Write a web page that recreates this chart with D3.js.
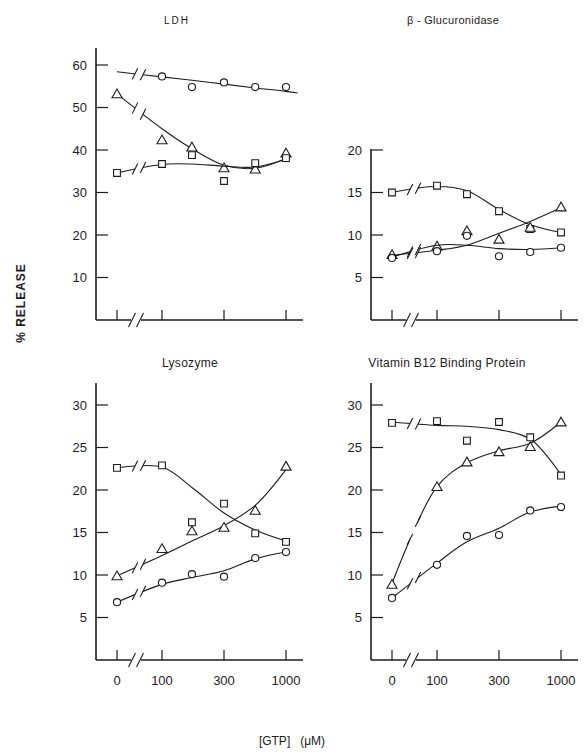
<!DOCTYPE html>
<html>
<head>
<meta charset="UTF-8">
<script src="https://d3js.org/d3.v7.min.js"></script>
<style>
    body { margin: 0; background: #fff; }
    svg text { font-family: "Liberation Sans", Arial, sans-serif; fill: #1c1c1c; }
</style>
</head>
<body>
<svg id="chart" width="586" height="752"></svg>
<script>
    // GTP doses (µM) and axis ticks
    const doses = [0, 100, 170, 300, 550, 1000];
    const fitDoses = [0, 100, 170, 300, 550, 1000, 1250];
    const doseTicks = [0, 100, 300, 1000];

    // LDH
    const ldhCircles = [null, 57.3, 54.8, 55.9, 54.8, 54.8];
    const ldhCirclesFit = [58.4, 57.2, 56.4, 55.5, 54.6, 53.8, 53.4];
    const ldhTriangles = [53.2, 42.4, 40.7, 35.8, 35.5, 39.3];
    const ldhTrianglesFit = [53.2, 45.0, 40.3, 36.4, 35.7, 38.0];
    const ldhSquares = [34.6, 36.7, 38.8, 32.7, 36.9, 38.1];
    const ldhSquaresFit = [34.6, 36.6, 36.7, 36.2, 36.0, 37.8];

    // beta-Glucuronidase
    const glucSquares = [15.0, 15.8, 14.8, 12.8, 10.7, 10.3];
    const glucSquaresFit = [15.0, 15.7, 15.2, 13.0, 11.2, 10.3];
    const glucTriangles = [7.7, 8.7, 10.5, 9.5, 10.9, 13.3];
    const glucTrianglesFit = [7.6, 8.2, 8.8, 10.2, 11.6, 13.2];
    const glucCircles = [7.3, 8.1, 9.9, 7.5, 8.0, 8.5];
    const glucCirclesFit = [7.4, 8.8, 8.8, 8.4, 8.3, 8.5];

    // Lysozyme
    const lysoSquares = [22.6, 22.9, 16.2, 18.4, 14.9, 13.9];
    const lysoSquaresFit = [22.6, 22.7, 20.3, 17.3, 15.3, 14.0];
    const lysoTriangles = [9.9, 13.1, 15.2, 15.6, 17.6, 22.8];
    const lysoTrianglesFit = [9.9, 12.3, 14.0, 15.8, 18.2, 22.4];
    const lysoCircles = [6.8, 9.1, 10.1, 9.8, 12.0, 12.7];
    const lysoCirclesFit = [6.8, 8.9, 9.7, 10.5, 11.9, 12.7];

    // Vitamin B12 binding protein
    const b12Squares = [27.9, 28.1, 25.8, 28.0, 26.2, 21.7];
    const b12SquaresFit = [28.0, 27.6, 27.5, 27.1, 26.0, 21.8];
    const b12Triangles = [8.9, 20.4, 23.3, 24.5, 25.1, 28.0];
    const b12TrianglesFit = [9.0, 20.4, 23.2, 24.6, 25.5, 28.0];
    const b12Circles = [7.3, 11.2, 14.6, 14.7, 17.6, 18.0];
    const b12CirclesFit = [7.3, 11.4, 13.9, 15.5, 17.4, 18.1];

    const ticksLDH = [10, 20, 30, 40, 50, 60];
    const ticksGluc = [5, 10, 15, 20];
    const ticksLower = [5, 10, 15, 20, 25, 30];

    const panels = [
        { title: 'LDH', tx: 177, ty: 24, tsize: 10, ox: 96, base: 320, top: 65, axisTop: 48,
          yMax: 60, ticks: ticksLDH, labels: false,
          series: [[ldhCircles, ldhCirclesFit, 'circle'], [ldhTriangles, ldhTrianglesFit, 'triangle'], [ldhSquares, ldhSquaresFit, 'square']] },
        { title: 'β - Glucuronidase', tx: 453, ty: 24, tsize: 11, ox: 371, base: 320, top: 150, axisTop: 149,
          yMax: 20, ticks: ticksGluc, labels: false,
          series: [[glucSquares, glucSquaresFit, 'square'], [glucTriangles, glucTrianglesFit, 'triangle'], [glucCircles, glucCirclesFit, 'circle']] },
        { title: 'Lysozyme', tx: 190, ty: 367, tsize: 12, ox: 96, base: 660, top: 405, axisTop: 383,
          yMax: 30, ticks: ticksLower, labels: true,
          series: [[lysoSquares, lysoSquaresFit, 'square'], [lysoTriangles, lysoTrianglesFit, 'triangle'], [lysoCircles, lysoCirclesFit, 'circle']] },
        { title: 'Vitamin B12 Binding Protein', tx: 447, ty: 367, tsize: 12, ox: 371, base: 660, top: 405, axisTop: 383,
          yMax: 30, ticks: ticksLower, labels: true,
          series: [[b12Squares, b12SquaresFit, 'square'], [b12Triangles, b12TrianglesFit, 'triangle'], [b12Circles, b12CirclesFit, 'circle']] }
    ];

    const svg = d3.select('#chart');
    const ink = '#1c1c1c';
    const symbols = {
        circle: d3.symbol().type(d3.symbolCircle).size(40),
        square: d3.symbol().type(d3.symbolSquare).size(46),
        triangle: d3.symbol().type(d3.symbolTriangle).size(44)
    };

    // y position on a drawn path for a given x (binary search along length)
    function yAtX(node, x) {
        let lo = 0, hi = node.getTotalLength();
        for (let i = 0; i < 30; i++) {
            const mid = (lo + hi) / 2;
            if (node.getPointAtLength(mid).x < x) lo = mid; else hi = mid;
        }
        return node.getPointAtLength(lo).y;
    }

    function breakMark(g, x, y, h) {
        g.append('line')
            .attr('x1', x - h / 4).attr('y1', y + h / 2)
            .attr('x2', x + h / 4).attr('y2', y - h / 2)
            .attr('stroke', ink).attr('stroke-width', 1.1);
    }

    panels.forEach((p, pi) => {
        const g = svg.append('g');
        const logX = d3.scaleLog().domain([100, 300, 1000]).range([p.ox + 66, p.ox + 128, p.ox + 190]);
        const zeroX = d3.scaleLinear().domain([0, 1]).range([p.ox + 21, p.ox + 21]);
        const x = d => d === 0 ? zeroX(d) : logX(d);
        const y = d3.scaleLinear().domain([0, p.yMax]).range([p.base, p.top]);
        const axisEnd = p.ox + 207;

        // y axis
        g.append('line').attr('x1', p.ox).attr('x2', p.ox).attr('y1', p.axisTop).attr('y2', p.base)
            .attr('stroke', ink).attr('stroke-width', 1.6);
        g.selectAll('.yt').data(p.ticks).enter().append('line')
            .attr('x1', p.ox).attr('x2', p.ox + 12)
            .attr('y1', d => y(d)).attr('y2', d => y(d))
            .attr('stroke', ink).attr('stroke-width', 1.2);
        g.selectAll('.yl').data(p.ticks).enter().append('text')
            .attr('x', p.ox - 9).attr('y', d => y(d) + 4.5)
            .attr('text-anchor', 'end').attr('font-size', 13)
            .text(d => d);

        // x axis with break
        g.append('line').attr('x1', p.ox).attr('x2', p.ox + 35).attr('y1', p.base).attr('y2', p.base)
            .attr('stroke', ink).attr('stroke-width', 1.6);
        g.append('line').attr('x1', p.ox + 45).attr('x2', axisEnd).attr('y1', p.base).attr('y2', p.base)
            .attr('stroke', ink).attr('stroke-width', 1.6);
        [p.ox + 36, p.ox + 44].forEach(bx => breakMark(g, bx, p.base, 14));
        g.selectAll('.xt').data(doseTicks).enter().append('line')
            .attr('x1', d => x(d)).attr('x2', d => x(d))
            .attr('y1', p.base).attr('y2', p.base - 10)
            .attr('stroke', ink).attr('stroke-width', 1.2);
        if (p.labels) {
            g.selectAll('.xl').data(doseTicks).enter().append('text')
                .attr('x', d => x(d)).attr('y', p.base + 25)
                .attr('text-anchor', 'middle').attr('font-size', 13)
                .text(d => d);
        }

        // title
        g.append('text').attr('x', p.tx).attr('y', p.ty)
            .attr('text-anchor', 'middle').attr('font-size', p.tsize)
            .attr('letter-spacing', pi === 0 ? 2 : 0.3)
            .attr('fill', pi < 2 ? '#555' : ink)
            .text(p.title);

        // clip away the break gap on the fitted curves
        const clipId = 'clip' + pi;
        const clip = svg.append('clipPath').attr('id', clipId);
        const gapA = p.ox + 39, gapB = p.ox + 47;
        clip.append('rect').attr('x', 0).attr('y', 0).attr('width', gapA).attr('height', 752);
        clip.append('rect').attr('x', gapB).attr('y', 0).attr('width', 586 - gapB).attr('height', 752);

        const line = d3.line()
            .x((d, i) => x(fitDoses[i]))
            .y(d => y(d))
            .curve(d3.curveCatmullRom.alpha(0.5));

        p.series.forEach(([pts, fit, shape]) => {
            const path = g.append('path')
                .attr('d', line(fit))
                .attr('fill', 'none')
                .attr('stroke', ink)
                .attr('stroke-width', 1.1)
                .attr('clip-path', `url(#${clipId})`);
            const node = path.node();
            breakMark(g, gapA, yAtX(node, gapA), 11);
            breakMark(g, gapB, yAtX(node, gapB), 11);

            g.selectAll(null)
                .data(pts.map((v, i) => ({ d: doses[i], v })).filter(o => o.v !== null))
                .enter().append('path')
                .attr('d', symbols[shape])
                .attr('transform', o => `translate(${x(o.d)},${y(o.v) + (shape === 'triangle' ? 1 : 0)})`)
                .attr('fill', '#fff')
                .attr('stroke', ink)
                .attr('stroke-width', 1.1);
        });
    });

    // shared labels
    svg.append('text')
        .attr('transform', 'translate(25,303) rotate(-90)')
        .attr('text-anchor', 'middle').attr('font-size', 12)
        .attr('font-weight', 'bold').attr('letter-spacing', 1)
        .text('% RELEASE');

    svg.append('text')
        .attr('x', 292).attr('y', 745)
        .attr('text-anchor', 'middle').attr('font-size', 12)
        .attr('xml:space', 'preserve')
        .text('[GTP]   (μM)');
</script>
</body>
</html>
